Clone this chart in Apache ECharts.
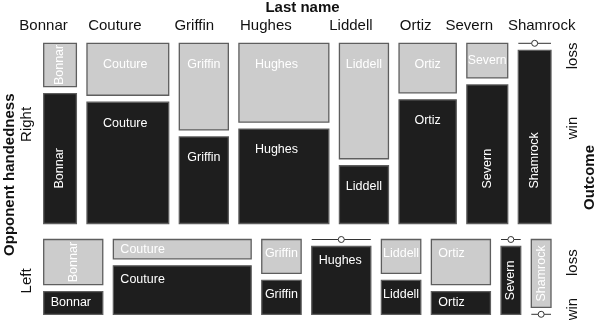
<!DOCTYPE html>
<html><head><meta charset="utf-8">
<script src="https://cdn.jsdelivr.net/npm/echarts@6/dist/echarts.min.js"></script>
<style>html,body{margin:0;padding:0;background:#fff}#c{width:595px;height:320px}</style>
</head><body><div id="c"></div>
<script>
// ---- data ----
const names = ['Bonnar','Couture','Griffin','Hughes','Liddell','Ortiz','Severn','Shamrock'];
const handedness = ['Right','Left'];
const outcomes = ['loss','win'];
const rightLoss = [1,3,3,5,4,2,1,0];
const rightWin  = [3,7,3,6,2,5,4,4];
const leftLoss  = [2,2,1,0,1,2,0,1];
const leftWin   = [1,5,1,3,1,1,1,0];

// ---- style / layout ----
const FONT = '"Liberation Sans", Arial, Helvetica, sans-serif';
const colGap = 10.6, rowGap = 16, outGap = 7, W = 507.3, H = 271;
const cellFont = 12.5;
const rowLabelOff = [21, 14];
const rowPadCap = [16, 7];
const labelRotate = [
  [[1,0,0,0,0,0,0,0],[1,0,0,0,0,0,1,1]],
  [[1,0,0,0,0,0,0,1],[0,0,0,0,0,0,1,0]]
];
const topShift = [-16.5,-13,-9.5,-18,-13,-12,-18,7];
const outcomeLabelFrac = [[0.07,0.47],[0.31,0.93]];
const lossFill = '#cccccc', winFill = '#1e1e1e', border = '#5e5e5e';

// ---- build mosaic layout from counts ----
const rows = [{loss:rightLoss, win:rightWin},{loss:leftLoss, win:leftWin}];
const sum = a => a.reduce((s,v)=>s+v,0);
const rowTot = rows.map(r => sum(r.loss)+sum(r.win));
const grand = sum(rowTot);
const availH = H - rowGap*(rows.length-1);
const cells = [], rowBands = [], colCentersRight = [];
let yy = 0;
rows.forEach((r, ri) => {
  const rh = availH*rowTot[ri]/grand;
  rowBands.push([yy, yy+rh]);
  const availW = W - colGap*(names.length-1);
  let x = 0;
  names.forEach((nm, ci) => {
    const n = r.loss[ci]+r.win[ci];
    const w = availW*n/rowTot[ri];
    const inner = rh - outGap;
    const lh = inner*r.loss[ci]/n;
    cells.push([x, yy, x+w, yy+lh, r.loss[ci], ri, ci, 0]);
    cells.push([x, yy+lh+outGap, x+w, yy+rh, r.win[ci], ri, ci, 1]);
    if (ri === 0) colCentersRight.push(x+w/2);
    x += w+colGap;
  });
  yy += rh+rowGap;
});

const cv = document.createElement('canvas').getContext('2d');
function measure(t, fs){ cv.font = fs+'px '+FONT; return cv.measureText(t).width; }

function renderItem(params, api){
  const x0=api.value(0), y0=api.value(1), x1=api.value(2), y1=api.value(3);
  const n=api.value(4), ri=api.value(5), ci=api.value(6), oi=api.value(7);
  const p0=api.coord([x0,y0]), p1=api.coord([x1,y1]);
  const left=p0[0], top=p0[1], w=p1[0]-p0[0], h=p1[1]-p0[1];
  if (n === 0){
    return {type:'group', children:[
      {type:'line', shape:{x1:left,y1:top,x2:left+w,y2:top}, style:{stroke:'#333',lineWidth:1}},
      {type:'circle', shape:{cx:left+w/2,cy:top,r:3}, style:{fill:'#fff',stroke:'#333',lineWidth:1}}
    ]};
  }
  const nm = names[ci];
  const tw = measure(nm, cellFont);
  const rot = labelRotate[ri][oi][ci];
  let txt;
  if (!rot){
    const fs = Math.min(cellFont, cellFont*(w-2)/tw);
    const tw2 = tw*fs/cellFont;
    const tx = left + Math.min(rowPadCap[ri], Math.max(1,(w-tw2)/2));
    const ty = top + Math.min(h/2, rowLabelOff[ri]);
    txt = {type:'text', x:tx, y:ty, style:{text:nm, x:0, y:0, fill:'#fff', font:fs+'px '+FONT,
      textAlign:'left', textVerticalAlign:'middle', align:'left', verticalAlign:'middle'}};
  } else {
    const fs = Math.min(cellFont, cellFont*(h-2)/tw);
    const tw2 = tw*fs/cellFont;
    const pad = Math.min(35, Math.max(1,(h-tw2)/2));
    const cy = top + h - pad - tw2/2;
    txt = {type:'text', x:left+w/2, y:cy, rotation:Math.PI/2, style:{text:nm, x:0, y:0, fill:'#fff', font:fs+'px '+FONT,
      textAlign:'center', textVerticalAlign:'middle', align:'center', verticalAlign:'middle'}};
  }
  return {type:'group', children:[
    {type:'rect', shape:{x:left,y:top,width:w,height:h}, style:{fill: oi===0?lossFill:winFill, stroke:border, lineWidth:1.3}},
    txt
  ]};
}

const chart = echarts.init(document.getElementById('c'), null, {renderer:'canvas'});
chart.setOption({
  animation:false,
  grid:{left:43.7, top:43.3, width:W, height:H},
  xAxis:{type:'value', min:0, max:W, show:false},
  yAxis:{type:'value', min:0, max:H, inverse:true, show:false},
  series:[{type:'custom', renderItem, data:cells, clip:false}]
});

const g = [];
const tfont = '15px '+FONT, bfont = 'bold 15px '+FONT;
function T(x,y,text,font,rot){
  return {type:'text', x, y, rotation: rot?Math.PI/2:0,
    style:{text, x:0, y:0, font, fill:'#111', textAlign:'center', textVerticalAlign:'middle', align:'center', verticalAlign:'middle'}};
}
names.forEach((nm, ci) => {
  const p = chart.convertToPixel({gridIndex:0}, [colCentersRight[ci], 0]);
  g.push(T(p[0]+topShift[ci], p[1]-17, nm, tfont, false));
});
const rowShift = [-9, 4];
handedness.forEach((hd, ri) => {
  const a = chart.convertToPixel({gridIndex:0}, [0, rowBands[ri][0]]);
  const b = chart.convertToPixel({gridIndex:0}, [0, rowBands[ri][1]]);
  g.push(T(26.7, (a[1]+b[1])/2 + rowShift[ri], hd, tfont, true));
  outcomes.forEach((oc, oi) => {
    g.push(T(573, a[1] + (b[1]-a[1])*outcomeLabelFrac[ri][oi], oc, tfont, true));
  });
});
g.push(T(302.5, 7.5, 'Last name', bfont, false));
g.push(T(10, 174.7, 'Opponent handedness', bfont, true));
g.push(T(590, 177.5, 'Outcome', bfont, true));
chart.setOption({graphic:g});
</script></body></html>
